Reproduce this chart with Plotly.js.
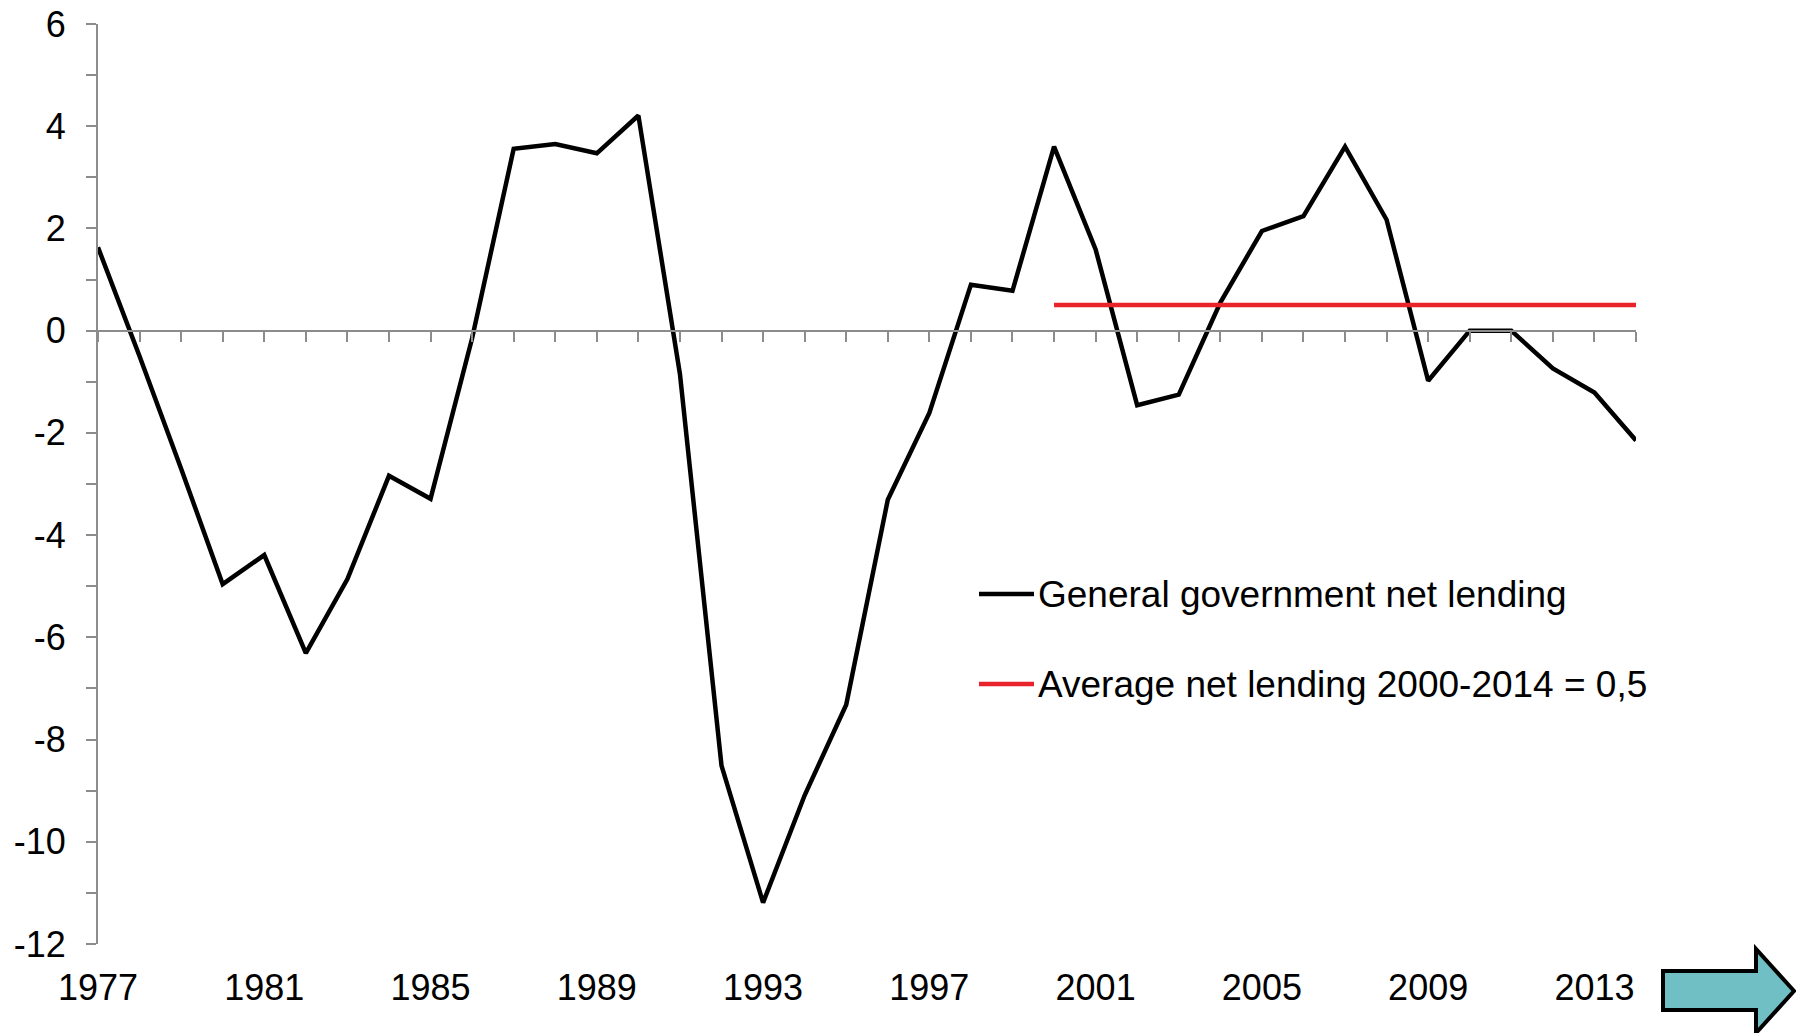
<!DOCTYPE html>
<html>
<head>
<meta charset="utf-8">
<script src="https://cdn.plot.ly/plotly-3.0.1.min.js"></script>
<style>
  html, body { margin: 0; padding: 0; background: #ffffff; }
  #chart { width: 1796px; height: 1033px; }
</style>
</head>
<body>
<div id="chart"></div>
<script>
// ---- data ----
const years = [1977,1978,1979,1980,1981,1982,1983,1984,1985,1986,1987,1988,1989,1990,1991,1992,1993,1994,1995,1996,1997,1998,1999,2000,2001,2002,2003,2004,2005,2006,2007,2008,2009,2010,2011,2012,2013,2014];
const netLending = [1.63,-0.5,-2.7,-4.96,-4.39,-6.31,-4.86,-2.84,-3.29,-0.15,3.56,3.65,3.47,4.21,-0.85,-8.51,-11.19,-9.09,-7.32,-3.31,-1.61,0.90,0.78,3.60,1.59,-1.46,-1.25,0.55,1.95,2.24,3.60,2.17,-0.98,0,0,-0.74,-1.21,-2.15];
const avgYears = [2000, 2014];
const avgValue = [0.5, 0.5];
const seriesNames = ["General government net lending", "Average net lending 2000-2014 = 0,5"];
const xTickVals = [1977,1981,1985,1989,1993,1997,2001,2005,2009,2013];
const yTickVals = [6,4,2,0,-2,-4,-6,-8,-10,-12];

// ---- layout geometry (pixels) ----
const W = 1796, H = 1033;
const M = {l: 98, r: 160, t: 24, b: 89};
const PW = W - M.l - M.r, PH = H - M.t - M.b;
const px = x => (x - M.l) / PW;
const py = y => (H - M.b - y) / PH;
const FONT = '"Liberation Sans", Arial, Helvetica, sans-serif';
const GREY = '#8c8c8c';

const traces = [
  {x: years, y: netLending, type: 'scatter', mode: 'lines', name: seriesNames[0],
   line: {color: '#000000', width: 4.5}, xaxis: 'x', yaxis: 'y', hoverinfo: 'x+y'},
  {x: avgYears, y: avgValue, type: 'scatter', mode: 'lines', name: seriesNames[1],
   line: {color: '#e8232a', width: 4.5}, xaxis: 'x2', yaxis: 'y', hoverinfo: 'x+y'}
];

// arrow (pixel path converted to paper coords)
const arrowPts = [[1663,971],[1756,971],[1756,949],[1794,991],[1756,1033],[1756,1010],[1663,1010]];
const arrowPath = 'M' + arrowPts.map(p => px(p[0]).toFixed(5) + ',' + py(p[1]).toFixed(5)).join(' L') + ' Z';

const layout = {
  width: W, height: H,
  margin: M,
  paper_bgcolor: '#ffffff', plot_bgcolor: '#ffffff',
  showlegend: false,
  font: {family: FONT, size: 36, color: '#000000'},
  xaxis: {
    range: [1977, 2014], showgrid: false, zeroline: false, showline: false,
    tickmode: 'array', tickvals: xTickVals, ticktext: xTickVals.map(String),
    ticks: '', ticklabelstandoff: 19,
    tickfont: {family: FONT, size: 36, color: '#000'}, fixedrange: true
  },
  xaxis2: {
    overlaying: 'x', anchor: 'free', position: 12/18, side: 'bottom',
    range: [1977, 2014], showgrid: false, zeroline: false,
    showline: true, linecolor: GREY, linewidth: 2,
    tickmode: 'linear', tick0: 1977, dtick: 1,
    ticks: 'outside', ticklen: 10, tickwidth: 2, tickcolor: GREY,
    showticklabels: false, fixedrange: true
  },
  yaxis: {
    range: [-12, 6], showgrid: false, zeroline: false,
    showline: true, linecolor: GREY, linewidth: 2,
    tickmode: 'array', tickvals: yTickVals, ticktext: yTickVals.map(String),
    ticks: 'outside', ticklen: 10, tickwidth: 2, tickcolor: GREY,
    minor: {tickmode: 'linear', tick0: 0, dtick: 1, ticks: 'outside', ticklen: 10, tickwidth: 2, tickcolor: GREY},
    ticklabelstandoff: 13,
    tickfont: {family: FONT, size: 36, color: '#000'}, fixedrange: true
  },
  shapes: [
    {type: 'line', xref: 'paper', yref: 'paper', x0: px(979), x1: px(1034), y0: py(594), y1: py(594),
     line: {color: '#000000', width: 4.5}},
    {type: 'line', xref: 'paper', yref: 'paper', x0: px(979), x1: px(1034), y0: py(684), y1: py(684),
     line: {color: '#e8232a', width: 4.5}},
    {type: 'path', xref: 'paper', yref: 'paper', path: arrowPath,
     fillcolor: '#70bfc4', line: {color: '#000000', width: 4}}
  ],
  annotations: [
    {xref: 'paper', yref: 'paper', x: px(1036), y: py(594), xanchor: 'left', yanchor: 'middle',
     text: seriesNames[0], showarrow: false, font: {family: FONT, size: 37, color: '#000'}},
    {xref: 'paper', yref: 'paper', x: px(1036), y: py(684), xanchor: 'left', yanchor: 'middle',
     text: seriesNames[1], showarrow: false, font: {family: FONT, size: 37, color: '#000'}}
  ]
};

Plotly.newPlot('chart', traces, layout, {displayModeBar: false, staticPlot: true});
</script>
</body>
</html>
